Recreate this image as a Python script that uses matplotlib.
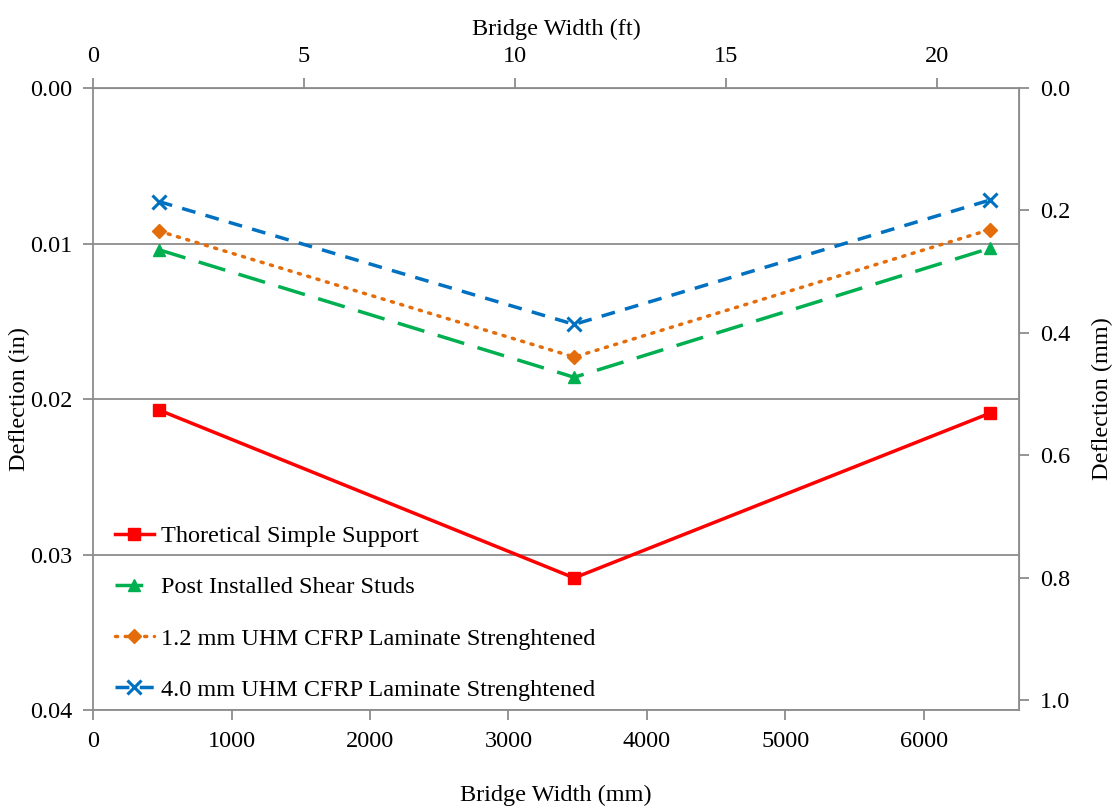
import numpy as np
import matplotlib
matplotlib.use('Agg')
import matplotlib.pyplot as plt

plt.rcParams['font.family'] = ['Liberation Serif', 'DejaVu Serif']

# posicoes ao longo da largura da ponte (mm)
largura = [475, 3475, 6480]

# deflexoes (in)
teorico = [0.0207, 0.0315, 0.0209]
conectores = [0.0104, 0.0186, 0.0103]
cfrp_12 = [0.0092, 0.0173, 0.0091]
cfrp_40 = [0.0073, 0.0152, 0.0072]

nomes = ['Thoretical Simple Support',
         'Post Installed Shear Studs',
         '1.2 mm UHM CFRP Laminate Strenghtened',
         '4.0 mm UHM CFRP Laminate Strenghtened']

cinza = '#8c8c8c'
fs = 17.5

fig = plt.figure(figsize=(11.17, 8.07), dpi=100)
ax = fig.add_axes([0.0833, 0.12, 0.8289, 0.771])

ax.plot(largura, teorico, color='#ff0000', lw=2.5, marker='s', ms=9, label=nomes[0])
ax.plot(largura, conectores, color='#00b050', lw=2.5, ls=(0, (8, 4)), marker='^', ms=9, label=nomes[1])
ax.plot(largura, cfrp_12, color='#e46c0a', lw=2.5, ls=(0, (0.6, 2.2)), dash_capstyle='round',
        marker='D', ms=7, label=nomes[2])
ax.plot(largura, cfrp_40, color='#0070c0', lw=2.5, ls=(0, (4, 3)), marker='x', ms=10, mew=2.2, label=nomes[3])

ax.set_xlim(0, 6687)
ax.set_ylim(0.04, 0.0)
ax.set_xticks(np.arange(0, 6001, 1000))
ax.set_yticks([0.0, 0.01, 0.02, 0.03, 0.04])
ax.set_yticklabels(['0.00', '0.01', '0.02', '0.03', '0.04'])
ax.yaxis.grid(True, color=cinza, lw=1.3)
ax.set_axisbelow(True)

for s in ax.spines.values():
    s.set_color(cinza)
    s.set_linewidth(1.3)
ax.tick_params(direction='out', length=7, color=cinza, width=1.3, labelsize=fs, pad=8)

ax.set_xlabel('Bridge Width (mm)', fontsize=fs)
ax.xaxis.set_label_coords(0.5, -0.12)
ax.set_ylabel('Deflection (in)', fontsize=fs)
ax.yaxis.set_label_coords(-0.068, 0.5)

# eixos secundarios
topo = ax.secondary_xaxis('top', functions=(lambda x: x / 304.8, lambda x: x * 304.8))
topo.set_xticks([0, 5, 10, 15, 20])
topo.tick_params(direction='out', length=7, color=cinza, width=1.3, labelsize=fs, pad=8)
topo.spines['top'].set_color(cinza)
topo.set_xlabel('Bridge Width (ft)', fontsize=fs, labelpad=8)

dir = ax.secondary_yaxis('right', functions=(lambda y: y * 25.4, lambda y: y / 25.4))
dir.set_yticks([0.0, 0.2, 0.4, 0.6, 0.8, 1.0])
dir.set_yticklabels(['0.0', '0.2', '0.4', '0.6', '0.8', '1.0'])
dir.tick_params(direction='out', length=7, color=cinza, width=1.3, labelsize=fs, pad=8)
dir.spines['right'].set_color(cinza)
dir.set_ylabel('Deflection (mm)', fontsize=fs, labelpad=16)

ax.legend(loc='lower left', bbox_to_anchor=(0.0, -0.02), frameon=False, fontsize=fs,
          handlelength=1.6, handletextpad=0.3, labelspacing=1.2)

fig.savefig('out.png', dpi=100)
